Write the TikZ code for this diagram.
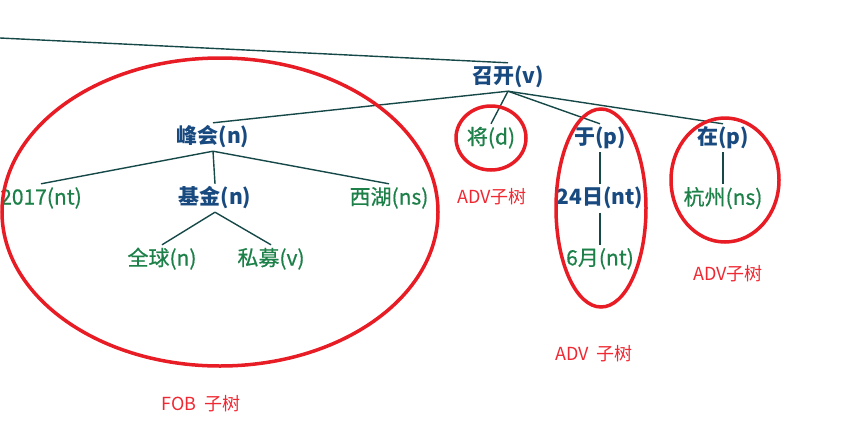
\documentclass[tikz,border=0pt]{standalone}
\usepackage{fontspec}
\setmainfont{Noto Sans CJK SC}
\newfontfamily\leaffont[FakeBold=0.6]{Noto Sans CJK SC}
\usepackage{tikz}
\usetikzlibrary{positioning}

\definecolor{headblue}{RGB}{24,74,128}
\definecolor{leafgreen}{RGB}{28,128,72}
\definecolor{linkteal}{RGB}{22,72,72}
\definecolor{ringred}{RGB}{232,28,36}
\definecolor{notered}{RGB}{240,40,50}

\begin{document}
\begin{tikzpicture}[x=1pt, y=-1pt, node distance=32pt]
  \tikzstyle{head}=[font=\fontsize{21}{25}\selectfont\bfseries, text=headblue, inner xsep=1pt, inner ysep=3.5pt, text height=17pt, text depth=4pt]
  \tikzstyle{leaf}=[head, font=\fontsize{21}{25}\selectfont\leaffont, text=leafgreen]
  \tikzstyle{link}=[draw=linkteal, line width=1.4pt]
  \tikzstyle{ring}=[draw=ringred, line width=3.5pt]
  \tikzstyle{note}=[font=\fontsize{18}{21}\selectfont, text=notered]

  \useasboundingbox (0,0) rectangle (865,432);

  % root and the edge coming from outside the picture
  \coordinate (outer) at (0,38);
  \node[head] (zhaokai) at (508,77) {召开(v)};
  \draw[link] (outer) -- (zhaokai.north);

  % = FOB side =
  \node[head] (fenghui) at (213,137) {峰会(n)};
  \node[leaf] (nian) at (41,198) {2017(nt)};
  \node[head] (jijin) at (215,198) {基金(n)};
  \node[leaf] (xihu) at (389,198) {西湖(ns)};
  \node[leaf] (quanqiu) at (162,259) {全球(n)};
  \node[leaf] (simu) at (271,259) {私募(v)};

  % = ADV side =
  \node[leaf] (jiang) at (491,138) {将(d)};
  \node[head] (yu) at (600,138) {于(p)};
  \node[head, below=of yu] (ri) {24日(nt)};
  \node[leaf, below=of ri] (yue) {6月(nt)};
  \node[head] (zai) at (723,138) {在(p)};
  \node[leaf, below=of zai] (hangzhou) {杭州(ns)};

  % dependency links
  \foreach \kid in {fenghui, jiang, yu, zai}
    \draw[link] (zhaokai.south) -- (\kid.north);
  \foreach \kid in {nian, jijin, xihu}
    \draw[link] (fenghui.south) -- (\kid.north);
  \foreach \kid in {quanqiu, simu}
    \draw[link] (jijin.south) -- (\kid.north);
  \draw[link] (yu.south) -- (ri.north);
  \draw[link] (ri.south) -- (yue.north);
  \draw[link] (zai.south) -- (hangzhou.north);

  % red rings round the subtrees
  \draw[ring] (220,212) ellipse [x radius=218, y radius=154];
  \draw[ring] (491,138) ellipse [x radius=35, y radius=32];
  \draw[ring] (601,208) ellipse [x radius=45, y radius=99];
  \draw[ring] (725,180) ellipse [x radius=54, y radius=62];

  % subtree notes
  \node[note] (fobnote) at (201,404) {FOB\ \ 子树};
  \node[note] (advjiang) at (492,197) {ADV子树};
  \node[note] (advyu) at (594,354) {ADV\ \ 子树};
  \node[note] (advzai) at (728,274) {ADV子树};
\end{tikzpicture}
\end{document}
